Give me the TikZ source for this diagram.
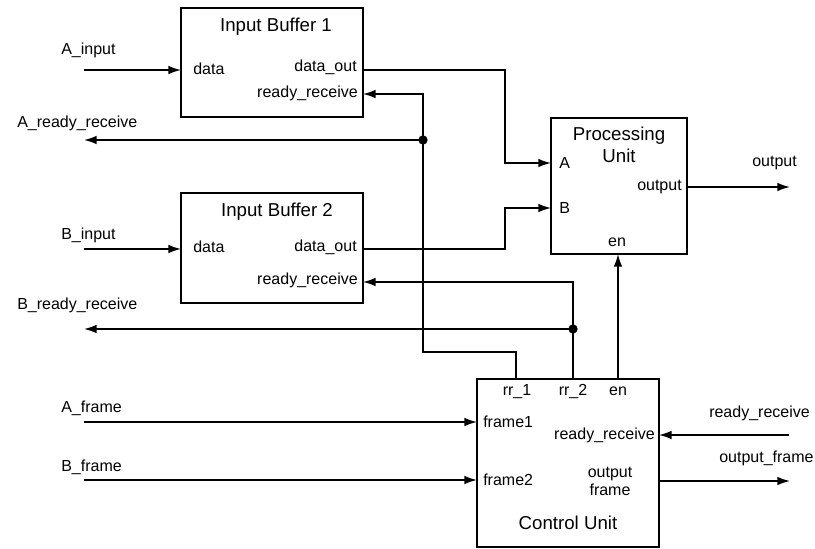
\documentclass[tikz,border=0pt]{standalone}
\usepackage{fontspec}
\setmainfont{Liberation Sans}
\usetikzlibrary{arrows.meta}
\begin{document}
\begin{tikzpicture}[x=0.75pt,y=-0.75pt,
  block/.style={draw, line width=1.3pt, inner sep=0pt, outer sep=0pt},
  wire/.style={line width=1.2pt},
  sig/.style={wire, -{Latex[length=9.5pt,width=6.5pt]}},
  lbl/.style={font=\fontsize{12}{14}\selectfont, inner sep=0pt},
  ttl/.style={font=\fontsize{14}{16}\selectfont, inner sep=0pt},
  dot/.style={circle, fill, inner sep=0pt, minimum size=7pt}]
\useasboundingbox (0,0) rectangle (815,549);

% --- blocks ---
\node[block, minimum width=136.5pt, minimum height=81.75pt] (buf1) at (272,62.5) {};
\node[block, minimum width=136.5pt, minimum height=82.5pt]  (buf2) at (272,248) {};
\node[block, minimum width=102pt,   minimum height=102pt]   (pu)   at (619,186) {};
\node[block, minimum width=136.5pt, minimum height=126pt]   (cu)   at (568,463) {};

% --- block titles and port names ---
\node[ttl, anchor=base] (t1) at (276,32) {Input Buffer 1};
\node[lbl, anchor=base west] (b1d) at (193,75) {data};
\node[lbl, anchor=base east] (b1o) at (357,72) {data\_out};
\node[lbl, anchor=base east] (b1r) at (358,98) {ready\_receive};

\node[ttl, anchor=base] (t2) at (277,217) {Input Buffer 2};
\node[lbl, anchor=base west] (b2d) at (193,253) {data};
\node[lbl, anchor=base east] (b2o) at (357,252) {data\_out};
\node[lbl, anchor=base east] (b2r) at (358,285) {ready\_receive};

\node[ttl, anchor=base] (tp1) at (619,141) {Processing};
\node[ttl, anchor=base] (tp2) at (619,163) {Unit};
\node[lbl, anchor=base west] (pa) at (559,169) {A};
\node[lbl, anchor=base west] (pb) at (559,214) {B};
\node[lbl, anchor=base east] (po) at (682,191) {output};
\node[lbl, anchor=base] (pe) at (617,247) {en};

\node[lbl, anchor=base] (c1) at (517,396) {rr\_1};
\node[lbl, anchor=base] (c2) at (573,396) {rr\_2};
\node[lbl, anchor=base] (ce) at (618,396) {en};
\node[lbl, anchor=base west] (cf1) at (483,427) {frame1};
\node[lbl, anchor=base west] (cf2) at (483,485) {frame2};
\node[lbl, anchor=base east] (cr) at (655,439) {ready\_receive};
\node[lbl, anchor=base] (co1) at (610,477) {output};
\node[lbl, anchor=base] (co2) at (610,495) {frame};
\node[ttl, anchor=base] (tc) at (568,529) {Control Unit};

% --- external signal names ---
\node[lbl, anchor=base west] (nai) at (61,55) {A\_input};
\node[lbl, anchor=base west] (nar) at (17,128) {A\_ready\_receive};
\node[lbl, anchor=base west] (nbi) at (61,240) {B\_input};
\node[lbl, anchor=base west] (nbr) at (17,310) {B\_ready\_receive};
\node[lbl, anchor=base west] (naf) at (61,412) {A\_frame};
\node[lbl, anchor=base west] (nbf) at (61,471) {B\_frame};
\node[lbl, anchor=base west] (nout) at (752,167) {output};
\node[lbl, anchor=base west] (nrr) at (709,417) {ready\_receive};
\node[lbl, anchor=base west] (nof) at (719,462) {output\_frame};

% --- free ends of external signals ---
\coordinate (ain)  at (84,70);
\coordinate (ardy) at (84,140);
\coordinate (bin)  at (84,249);
\coordinate (brdy) at (84,329);
\coordinate (afr)  at (84,422);
\coordinate (bfr)  at (84,480);
\coordinate (oute) at (790,187);
\coordinate (rrin) at (789,435);
\coordinate (ofr)  at (790,481);

% --- junctions ---
\node[dot] (j1) at (423,140) {};
\node[dot] (j2) at (573,329) {};

% --- inputs ---
\draw[sig] (ain) -- (buf1.west |- ain);
\draw[sig] (bin) -- (buf2.west |- bin);
\draw[sig] (afr) -- (cu.west |- afr);
\draw[sig] (bfr) -- (cu.west |- bfr);
\draw[sig] (rrin) -- (cu.east |- rrin);

% --- outputs ---
\draw[sig] (pu.east |- oute) -- (oute);
\draw[sig] (cu.east |- ofr) -- (ofr);

% --- data paths into the processing unit ---
\draw[sig] (buf1.east |- 0,70) -- (505,70) -- (505,163) -- (pu.west |- 0,163);
\draw[sig] (buf2.east |- 0,249) -- (505,249) -- (505,208) -- (pu.west |- 0,208);

% --- enable ---
\draw[sig] (cu.north -| 618,0) -- (pu.south -| 618,0);

% --- rr_1 to buffer 1 and A_ready_receive ---
\draw[sig] (cu.north -| 516,0) -- (516,352) -- (423,352) -- (j1.center) -- (423,94) -- (buf1.east |- 0,94);
\draw[sig] (j1.center) -- (ardy);

% --- rr_2 to buffer 2 and B_ready_receive ---
\draw[sig] (cu.north -| 573,0) -- (j2.center) -- (573,282) -- (buf2.east |- 0,282);
\draw[sig] (j2.center) -- (brdy);
\end{tikzpicture}
\end{document}
